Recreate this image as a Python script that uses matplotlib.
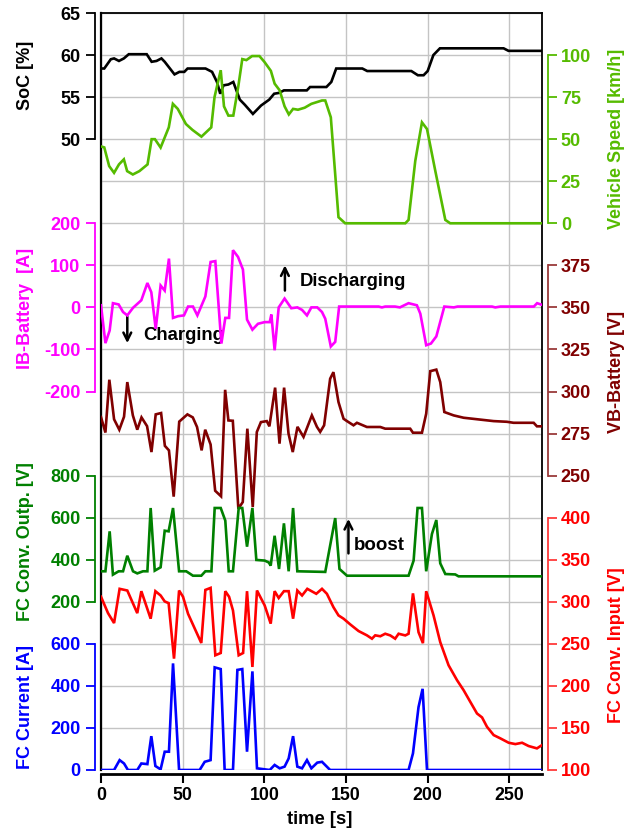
import matplotlib
matplotlib.use("Agg")
import matplotlib.pyplot as plt

plt.rcParams['font.family'] = ['Liberation Sans', 'DejaVu Sans']
plt.rcParams['font.weight'] = 'bold'
plt.rcParams['axes.labelweight'] = 'bold'
plt.rcParams['axes.unicode_minus'] = False

# ---------------- data ----------------
soc_t = [0, 2, 6, 8, 11, 14, 17, 28, 31, 34, 37, 39, 45, 48, 51, 53, 64, 68, 71, 73, 75, 78, 81, 85, 88, 93,
         98, 103, 106, 109, 112, 126, 128, 138, 141, 144, 146, 160, 163, 190, 194, 197.5, 200, 203.5, 207.5,
         246.5, 249.5, 270]
soc = [58.4, 58.4, 59.5, 59.6, 59.3, 59.6, 60.1, 60.1, 59.2, 59.3, 59.6, 59.2, 57.7, 58.0, 58.0, 58.4, 58.4,
       58.0, 56.8, 55.4, 56.4, 56.5, 56.8, 54.7, 54.1, 53.0, 54.0, 54.7, 55.4, 55.5, 55.8, 55.8, 56.2, 56.2,
       56.8, 58.4, 58.4, 58.4, 58.1, 58.1, 57.6, 57.6, 58.1, 60.0, 60.8, 60.8, 60.5, 60.5]

spd_t = [0, 2, 5, 8, 11, 14, 16, 19.5, 23.5, 28.5, 31, 33, 36.5, 41.5, 44, 47, 52, 56, 61.5, 67.5, 69.5, 73.3,
         75.3, 78, 81, 84, 86.5, 89, 92.5, 97, 100, 104, 106.3, 109.4, 112.4, 115, 117.6, 120.6, 124.7, 128.8,
         135.3, 137.3, 140.7, 143.4, 145.4, 149.5, 186.3, 188.3, 192.4, 196.5, 199.6, 204.7, 210.8, 213.8, 270]
spd = [45.7, 45.1, 34, 30, 35, 38, 31, 29, 31, 35, 50, 50, 45, 57, 71, 68, 59, 55.5, 51.5, 57, 75, 91, 69.5,
       64, 64, 81, 97.6, 97, 99.4, 99.4, 96, 90.6, 83, 79, 69.5, 64.7, 68, 67.5, 68.7, 71, 73, 73, 63, 29, 3.6,
       0, 0, 2, 37, 60, 56, 31, 2, 0, 0]

ib_t = [0, 2.7, 5.3, 7.3, 10.8, 13.5, 16.1, 19.6, 24.7, 28.4, 30.8, 33.5, 36.5, 39, 41.6, 44.1, 47.1, 50.8,
        53.3, 56.3, 59, 63.9, 67.1, 70, 73.7, 76.1, 78.4, 80.8, 83.9, 86.9, 89.4, 92.7, 96.1, 100.2, 103.3,
        104.3, 106.3, 108.8, 112.4, 116.5, 120.2, 123.1, 126.1, 128.8, 132.4, 135.3, 137.3, 140.7, 143.4,
        145.8, 170, 172, 174, 180, 183, 188.3, 193.4, 195.5, 199.1, 202, 205.3, 210.2, 216, 218.3, 239.4,
        241.4, 244.5, 265, 267, 270]
ib = [5, -85, -55, 10, 7, -11, -19, -1, 17, 58, 36, -51, 52, 40, 116, -25, -21, -19, 2, 2, -19, 26, 108, 110,
      -86, -25, -25, 136, 120, 90, -29, -53, -39, -35, -35, -17, -102, 0, 21, -2, 0, -6, -19, 0, 0, -11, -27,
      -93, -82, 2, 2, 0, 2, 2, 0, 10, 5, -15, -90, -86, -69, 2, 0, 2, 2, 0, 2, 2, 10, 6]

vb_t = [0, 2.7, 5.1, 8, 11.2, 14.1, 16.1, 19.5, 22.2, 24.8, 28.2, 30.9, 33.5, 36.8, 39.1, 41.6, 44.5, 47.9,
        52.9, 56.2, 58.8, 61.6, 63.8, 67.1, 69.9, 73.5, 76, 78, 80.7, 84.1, 86.8, 89.6, 92.9, 95.4, 97.9, 101.5,
        103.1, 106.6, 109.3, 112.1, 114.8, 117.4, 120.3, 124, 129.1, 132.2, 134.2, 136.6, 140.3, 142.3, 145.4,
        148.5, 150.6, 154.6, 156.7, 162.8, 171, 174, 189.3, 191, 196.5, 199.1, 201.6, 205.3, 207.7, 210.2,
        215.9, 222, 240.4, 248.5, 252.6, 264.9, 266.9, 270]
vb = [284.8, 275.6, 307, 283.5, 277.3, 285, 305.6, 285.8, 277.3, 284.6, 279.4, 264, 286.4, 287.2, 267.7, 265,
      237.5, 282.1, 286.4, 284.6, 278.9, 265, 277.3, 268.5, 241, 237.7, 301, 282.8, 282.6, 230.3, 234.3, 277.9,
      231.3, 275.9, 281.8, 282.4, 279.3, 302.3, 269, 302.3, 275, 264, 279, 273, 285.8, 279, 276, 279.9, 307.6,
      311.5, 293.7, 283.8, 282.4, 279.9, 281.4, 278.9, 278.9, 277.9, 277.9, 275.5, 275.5, 286.8, 312.1, 313,
      305.6, 287.8, 285.8, 284.4, 282.4, 282, 281.4, 281.4, 279.3, 279.3]

fo_t = [0, 2.7, 5.3, 7.3, 10.8, 13.5, 16.1, 19.6, 22.2, 25.7, 28.4, 30.4, 32.9, 36.5, 39, 41.4, 44.1, 47.8,
        52.2, 56.3, 61.4, 63.9, 67.6, 69.6, 73.3, 76.1, 78.2, 80.8, 84.3, 86.5, 89.4, 92.7, 95.1, 100.2, 102.7,
        103.9, 106.3, 109, 112, 114.9, 117.6, 120.2, 137.3, 143.4, 146, 150.6, 188.3, 191.4, 193.8, 196.5,
        199.1, 202.6, 205.3, 207.7, 210.8, 216.9, 218.9, 270]
fo = [345, 345, 535, 329, 345, 345, 419, 345, 335, 345, 345, 646, 348, 364, 538, 535, 646, 345, 345, 324, 324,
      345, 345, 646, 646, 586, 345, 345, 646, 646, 462, 646, 399, 396, 387, 372, 514, 356, 573, 345, 646, 345,
      342, 598, 356, 324, 324, 396, 646, 646, 345, 522, 589, 383, 332, 330, 321, 321]

fi_t = [0, 4.3, 8, 11.4, 16.1, 22.2, 24.7, 30.4, 33.3, 36.5, 39, 41.4, 44.7, 47.8, 50.2, 53.3, 61.4, 63.9,
        67.1, 70, 73.3, 76.1, 78.4, 80.8, 84.3, 87, 89.4, 92.7, 95.5, 100.2, 103.9, 106.3, 108.8, 112, 114.9,
        117.6, 120.2, 123.1, 126.3, 131.8, 135.3, 138.3, 142.3, 145.4, 148.5, 152.6, 157.7, 162.8, 165.9,
        167.9, 171, 174, 177.1, 180.1, 182.2, 186.3, 188.3, 191, 194.4, 197.1, 199.1, 203.6, 207.7, 212.8,
        218, 222, 226.1, 230.2, 233.3, 236.3, 240.4, 244.5, 249.6, 253.7, 257.8, 261.8, 266.9, 270]
fi = [306, 286.5, 274.7, 315.4, 313.4, 286.5, 312.6, 279.9, 312.6, 307.5, 300.4, 298.4, 232.4, 313.4, 306,
      285.7, 251, 314.1, 316.5, 236.4, 239.1, 312.6, 306, 289.7, 236.4, 239.1, 312.6, 222.5, 313.4, 295.7, 274,
      312.6, 304.5, 312.6, 312.6, 279.9, 313.4, 307.5, 315.4, 309.5, 315.4, 309.5, 293.6, 283.8, 279.9, 273.1,
      265.2, 260.1, 256.1, 260.1, 259, 262, 260, 256.1, 262, 260, 262, 310, 263.8, 250.8, 312.6, 283.8, 252,
      224.5, 206.7, 194.9, 181, 167.2, 162.5, 151.4, 141.5, 137.6, 132.4, 130.8, 132.4, 128.5, 125.7, 129.6]

fc_t = [0, 8, 11.4, 14.1, 16.5, 22.2, 24.7, 28.4, 30.8, 33.3, 36.5, 39, 41.6, 44.1, 47.8, 60.4, 63.5, 67.1,
        69.6, 73.3, 75.7, 80.8, 83.5, 86.5, 89.4, 92.7, 95.5, 103.3, 106.3, 109.4, 112.4, 114.9, 117.6, 120.2,
        123.1, 126.1, 128.8, 132.4, 135.3, 140.3, 188.3, 191, 194.4, 196.9, 199.6, 270]
fc = [0, 0, 47, 31, 0, 0, 31, 28, 161, 19, 3, 87, 87, 507, 0, 0, 39, 47, 488, 480, 0, 0, 476, 480, 87, 469, 8,
      0, 24, 8, 16, 55, 161, 16, 8, 47, 8, 35, 39, 0, 0, 79, 299, 386, 0, 0]

x_ticks = [0, 50, 100, 150, 200, 250]

# ---------------- figure ----------------
fig = plt.figure(figsize=(6.37, 8.34), dpi=100)
ax = fig.add_axes([101 / 637, 1 - 770 / 834, 441 / 637, 757 / 834])
ax.set_xlim(0, 270)
ax.set_ylim(0, 18)
ax.set_yticks(range(0, 19))
ax.set_xticks(x_ticks)
ax.grid(True, color='#c4c4c4', lw=1.0)
ax.tick_params(axis='x', direction='out', length=6.5, width=1.5, labelsize=12.8, pad=3)
for t in ax.get_xticklabels():
    t.set_fontweight('bold')
ax.spines['bottom'].set_position(('outward', 3))
ax.spines['bottom'].set_linewidth(2.0)
ax.spines['left'].set_linewidth(1.6)
ax.spines['right'].set_linewidth(1.3)
ax.spines['top'].set_linewidth(1.3)
ax.set_xlabel('time [s]', fontsize=13.2, fontweight='bold')
ax.xaxis.set_label_coords(0.497, -0.065)
ax.xaxis.label.set_verticalalignment('center')


def add_series(side, color, spine_color, ylim, ticks, label, label_y, t, v):
    a = ax.twinx()
    for s in a.spines.values():
        s.set_visible(False)
    sp = a.spines[side]
    sp.set_visible(True)
    sp.set_position(('outward', 4))
    sp.set_bounds(ticks[0], ticks[-1])
    sp.set_color(spine_color)
    sp.set_linewidth(1.3)
    if side == 'left':
        a.yaxis.tick_left()
        a.yaxis.set_label_position('left')
    a.set_ylim(*ylim)
    a.set_yticks(ticks)
    a.tick_params(axis='y', direction='out', length=6.5, width=1.3, colors=spine_color,
                  labelcolor=color, labelsize=13, pad=4.2 if side == 'left' else 3)
    for tl in a.get_yticklabels():
        tl.set_fontweight('bold')
    a.set_ylabel(label, color=color, fontsize=13, fontweight='bold')
    a.yaxis.set_label_coords(-0.172 if side == 'left' else 1.17, label_y)
    a.yaxis.label.set_verticalalignment('center')
    a.plot(t, v, color=color, lw=1.9, solid_joinstyle='miter')
    return a


add_series('left', 'black', 'black', (-25, 65), [50, 55, 60, 65], 'SoC [%]', 0.917, soc_t, soc)
add_series('right', '#55bb00', '#55bb00', (-325, 125), [0, 25, 50, 75, 100], 'Vehicle Speed [km/h]',
           0.834, spd_t, spd)
add_series('left', '#ff00ff', '#ff00ff', (-1100, 700), [-200, -100, 0, 100, 200], 'IB-Battery  [A]',
           0.61, ib_t, ib)
add_series('right', '#800000', '#9a3a3a', (75, 525), [250, 275, 300, 325, 350, 375], 'VB-Battery [V]',
           0.526, vb_t, vb)
add_series('left', '#008000', '#008000', (-600, 3000), [200, 400, 600, 800], 'FC Conv. Outp. [V]',
           0.302, fo_t, fo)
add_series('right', '#ff0000', '#ff3a3a', (100, 1000), [100, 150, 200, 250, 300, 350, 400],
           'FC Conv. Input [V]', 0.165, fi_t, fi)
add_series('left', '#0000ff', '#0000ff', (0, 3600), [0, 200, 400, 600], 'FC Current [A]',
           0.083, fc_t, fc)

# base axes only carries the grid: no y ticks
ax.tick_params(axis='y', left=False, right=False, labelleft=False, labelright=False)

# annotations (in grid coordinates of the base axes)
arrow = dict(arrowstyle='->', lw=1.8, color='black', mutation_scale=14, shrinkA=0, shrinkB=0)
ax.annotate('', xy=(112.6, 12.0), xytext=(112.6, 11.4), arrowprops=arrow, zorder=20)
ax.text(121.5, 11.62, 'Discharging', fontsize=13.3, fontweight='bold', va='center', ha='left', zorder=20)
ax.annotate('', xy=(16.1, 10.15), xytext=(16.1, 10.78), arrowprops=arrow, zorder=20)
ax.text(26.0, 10.34, 'Charging', fontsize=13.3, fontweight='bold', va='center', ha='left', zorder=20)
ax.annotate('', xy=(151.5, 5.97), xytext=(151.5, 5.15), arrowprops=arrow, zorder=20)
ax.text(154.5, 5.35, 'boost', fontsize=13.5, fontweight='bold', va='center', ha='left', zorder=20)

fig.savefig('out.png', dpi=100)
